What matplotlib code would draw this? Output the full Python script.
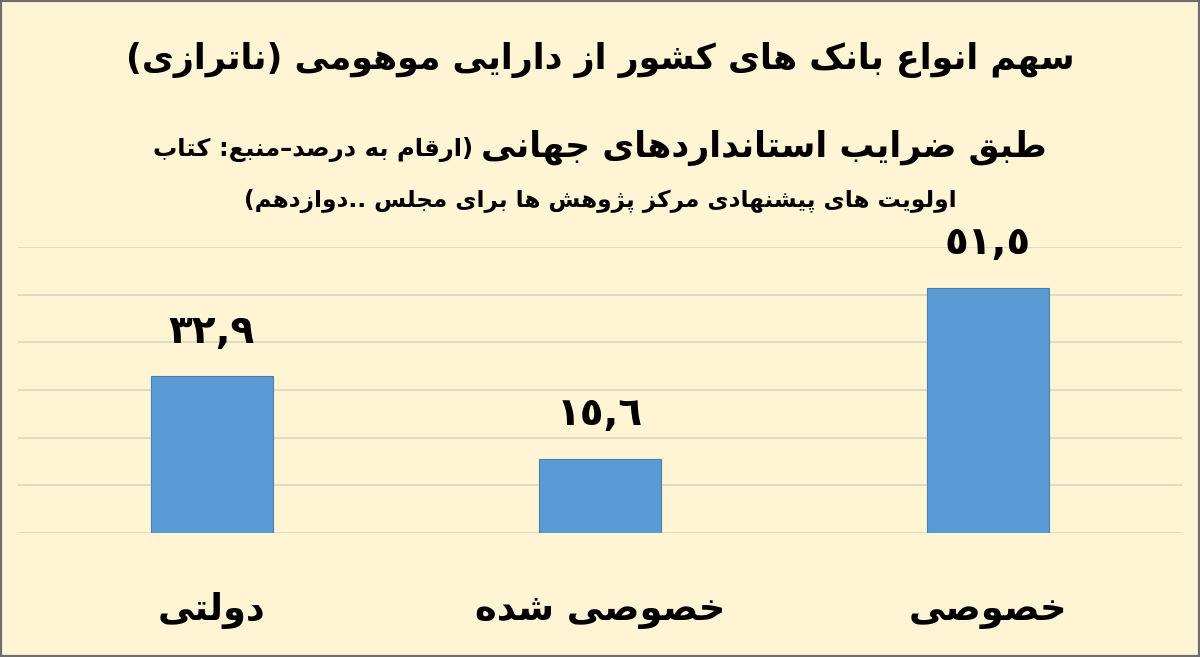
import matplotlib
matplotlib.use("Agg")
import matplotlib.pyplot as plt
from matplotlib.patches import Rectangle

# ---------------- data ----------------
categories = ["دولتی", "خصوصی شده", "خصوصی"]
values = [32.9, 15.6, 51.5]
title_line1 = "سهم انواع بانک های کشور از دارایی موهومی (ناترازی)"
title_line2_bold = "طبق ضرایب استانداردهای جهانی"
title_line2_small = "(ارقام به درصد–منبع: کتاب"
title_line3 = "اولویت های پیشنهادی مرکز پژوهش ها برای مجلس ..دوازدهم)"
y_ticks = [0, 10, 20, 30, 40, 50, 60]

# ---------------- simple Persian shaping (presentation forms) ----------------
DUAL = {  # letter: base code of (isolated, final, initial, medial)
    "\u0628": 0xFE8F, "\u062A": 0xFE95, "\u062B": 0xFE99, "\u062C": 0xFE9D,
    "\u062D": 0xFEA1, "\u062E": 0xFEA5, "\u0633": 0xFEB1, "\u0634": 0xFEB5,
    "\u0635": 0xFEB9, "\u0636": 0xFEBD, "\u0637": 0xFEC1, "\u0638": 0xFEC5,
    "\u0639": 0xFEC9, "\u063A": 0xFECD, "\u0641": 0xFED1, "\u0642": 0xFED5,
    "\u0644": 0xFEDD, "\u0645": 0xFEE1, "\u0646": 0xFEE5, "\u0647": 0xFEE9,
    "\u064A": 0xFEF1, "\u067E": 0xFB56, "\u0686": 0xFB7A, "\u06A9": 0xFB8E,
    "\u06AF": 0xFB92, "\u06CC": 0xFBFC,
}
RIGHT = {  # letter: base code of (isolated, final)
    "\u0622": 0xFE81, "\u0627": 0xFE8D, "\u062F": 0xFEA9, "\u0630": 0xFEAB,
    "\u0631": 0xFEAD, "\u0632": 0xFEAF, "\u0648": 0xFEED, "\u0698": 0xFB8A,
}
MIRROR = {"(": ")", ")": "("}
DIGITS = str.maketrans("0123456789", "٠١٢٣٤٥٦٧٨٩")


def is_letter(c):
    return c in DUAL or c in RIGHT


def shape(s):
    out = []
    n = len(s)
    for i, ch in enumerate(s):
        if not is_letter(ch):
            out.append(MIRROR.get(ch, ch))
            continue
        prev = s[i - 1] if i > 0 else ""
        nxt = s[i + 1] if i < n - 1 else ""
        jp = prev in DUAL
        jn = ch in DUAL and is_letter(nxt)
        if ch in DUAL:
            b = DUAL[ch]
            if jp and jn:
                out.append(chr(b + 3))
            elif jp:
                out.append(chr(b + 1))
            elif jn:
                out.append(chr(b + 2))
            else:
                out.append(chr(b))
        else:
            b = RIGHT[ch]
            out.append(chr(b + 1) if jp else chr(b))
    return "".join(reversed(out))


def fmt(v):
    return f"{v:.1f}".replace(".", ",").translate(DIGITS)


# ---------------- figure ----------------
BG = "#FFF4D3"
plt.rcParams["font.family"] = ["DejaVu Sans"]
fig = plt.figure(figsize=(12, 6.57), dpi=100, facecolor=BG)
ax = fig.add_axes([18 / 1200, 1 - 533 / 657, 1164 / 1200, (533 - 247) / 657])
ax.set_facecolor(BG)

x = list(range(len(categories)))
bars = ax.bar(x, values, width=0.312, color="#5B9BD5", edgecolor="#4A7DB0",
              linewidth=0.8, zorder=3)
ax.set_xlim(-0.5, len(categories) - 0.5)
ax.set_ylim(0, 60)
ax.set_yticks(y_ticks)
ax.yaxis.grid(True, color="#DDD6C2", linewidth=1.2, zorder=0)
ax.set_axisbelow(True)
ax.tick_params(axis="y", left=False, labelleft=False)
ax.tick_params(axis="x", bottom=False, pad=39)
for sp in ax.spines.values():
    sp.set_visible(False)
ax.set_xticks(x)
ax.set_xticklabels([shape(c) for c in categories], fontsize=26.5,
                   fontweight="bold", color="black")

for xi, v in zip(x, values):
    ax.annotate(fmt(v), (xi, v), xytext=(0, 32), textcoords="offset points",
                ha="center", va="center", fontsize=28, fontweight="bold",
                color="black", annotation_clip=False)

# ---------------- titles ----------------
cx = 0.5
fig.text(cx, 1 - 60 / 657, shape(title_line1), ha="center", va="center",
         fontsize=25, fontweight="bold", color="black")

t_bold = fig.text(0, 1 - 148 / 657, shape(title_line2_bold), ha="right",
                  va="center", fontsize=25, fontweight="bold", color="black")
t_small = fig.text(0, 1 - 150 / 657, shape(title_line2_small), ha="right",
                   va="center", fontsize=17.5, fontweight="bold", color="black")
fig.canvas.draw()
r = fig.canvas.get_renderer()
w1 = t_bold.get_window_extent(r).width / fig.bbox.width
w2 = t_small.get_window_extent(r).width / fig.bbox.width
gap = 8 / 1200
total = w1 + gap + w2
right = cx + total / 2
t_bold.set_x(right)
t_small.set_x(right - w1 - gap)

fig.text(cx, 1 - 201 / 657, shape(title_line3), ha="center", va="center",
         fontsize=16.7, fontweight="bold", color="black")

fig.patches.append(Rectangle((0, 0), 1, 1, transform=fig.transFigure,
                             fill=False, edgecolor="#6E6E6E", linewidth=3))

fig.savefig("out.png", dpi=100, facecolor=BG)
